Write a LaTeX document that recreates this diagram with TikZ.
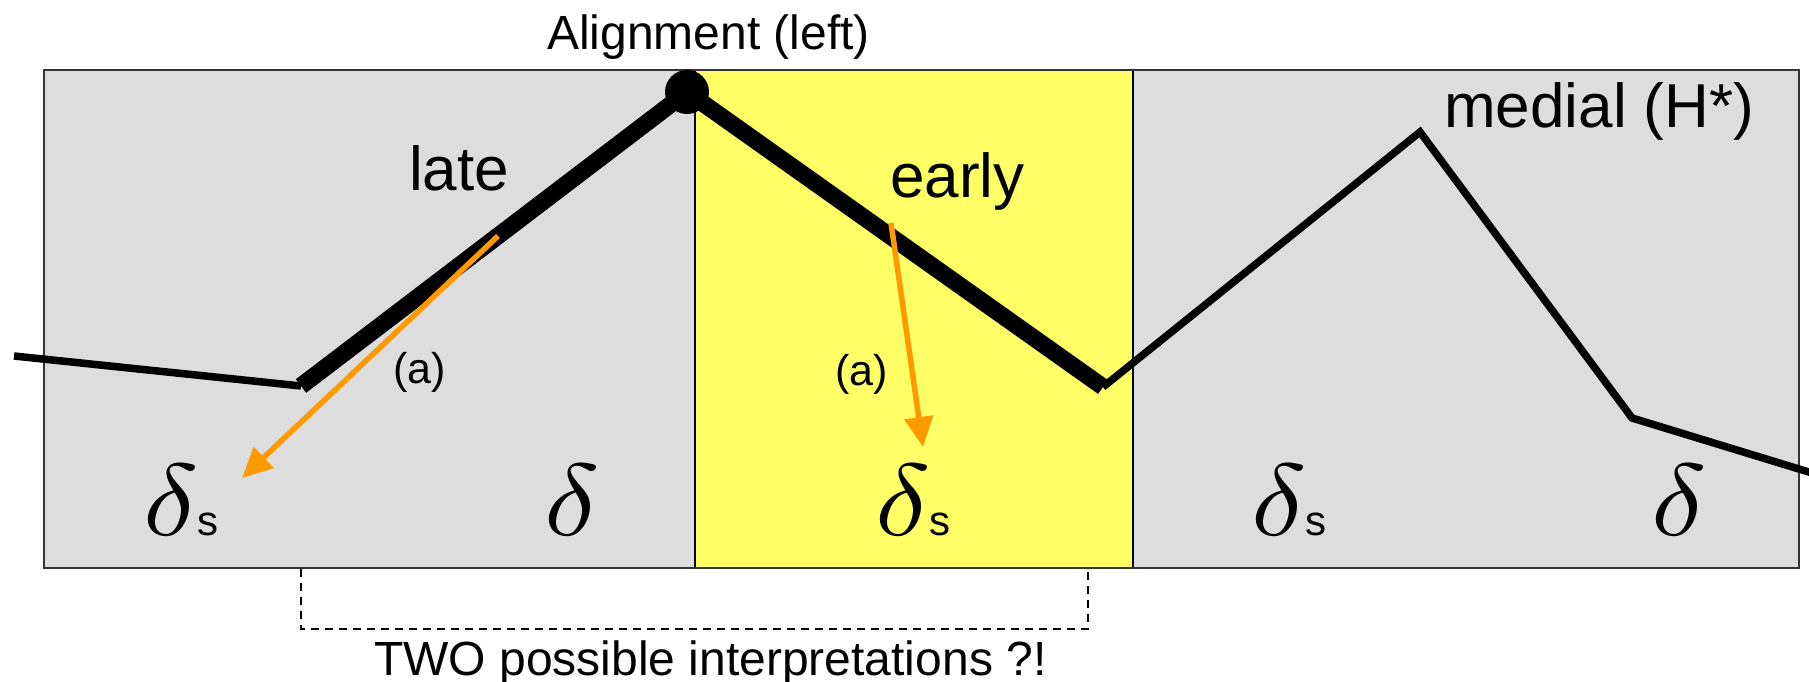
\documentclass[tikz,border=0pt]{standalone}
\usepackage{graphicx}
\usepackage{fontspec}
\setmainfont{Liberation Sans}
\usetikzlibrary{arrows.meta}
\definecolor{boxgray}{HTML}{DDDDDD}
\definecolor{hiyellow}{HTML}{FFFF66}
\definecolor{arrorange}{HTML}{FF9900}
\definecolor{edgegray}{HTML}{333333}
\tikzset{
  lbl/.style={inner sep=0pt, anchor=base west},
  bigtxt/.style={lbl, font=\fontsize{62}{70}\selectfont},
  midtxt/.style={lbl, font=\fontsize{48}{56}\selectfont},
  smalltxt/.style={lbl, font=\fontsize{43}{50}\selectfont},
  deltatxt/.style={lbl},
  thinline/.style={line width=7.5pt, line join=miter},
  thickline/.style={line width=17pt, line join=round},
  orarrow/.style={draw=arrorange, line width=5.5pt, -{Triangle[length=30pt,width=28pt]}},
  bracket/.style={dashed, dash pattern=on 8pt off 6pt, line width=1.5pt},
}
\newcommand{\dsym}{\scalebox{11.5}[10.2]{$\delta$}}
\newcommand{\dsub}{\dsym\kern-1pt{\fontsize{42}{42}\selectfont s}}
\begin{document}
\begin{tikzpicture}[x=1pt,y=-1pt]
\useasboundingbox (0,0) rectangle (1809,682);
% panels
\fill[boxgray] (44,70) rectangle (1799,568);
\fill[hiyellow] (695,70) rectangle (1133,568);
\draw[line width=2pt] (695,70) -- (695,568);
\draw[line width=2pt] (1133,70) -- (1133,568);
\draw[edgegray, line width=2pt] (44,70) rectangle (1799,568);
% texts
\node[midtxt] (align) at (547,50) {Alignment (left)};
\node[bigtxt] (late) at (409,190) {late};
\node[bigtxt] (early) at (890,197) {early};
\node[bigtxt] (medial) at (1444,128) {medial (H*)};
\node[smalltxt] (a1) at (393,383) {(a)};
\node[smalltxt] (a2) at (835,385) {(a)};
\node[deltatxt] (d1) at (143,535) {\dsub};
\node[deltatxt] (d2) at (544,535) {\dsym};
\node[deltatxt] (d3) at (875,535) {\dsub};
\node[deltatxt] (d4) at (1251,535) {\dsub};
\node[deltatxt] (d5) at (1651,535) {\dsym};
\node[midtxt] (two) at (374,675) {TWO possible interpretations ?!};
% contour
\coordinate (P0) at (14,356);
\coordinate (P1) at (301,386);
\coordinate (P2) at (687,92);
\coordinate (P3) at (1103,387);
\coordinate (P4) at (1420,132);
\coordinate (P5) at (1632,418);
\coordinate (P6) at (1812,473);
\draw[thinline] (P0) -- (P1);
\draw[thinline] (P3) -- (P4) -- (P5) -- (P6);
\draw[thickline] (P1) -- (P2) -- (P3);
\fill (P2) circle[radius=22pt];
% orange arrows
\coordinate (o1s) at (498,236);
\coordinate (o1e) at (242,478);
\coordinate (o2s) at (891,223);
\coordinate (o2e) at (923,447);
\draw[orarrow] (o1s) -- (o1e);
\draw[orarrow] (o2s) -- (o2e);
% bracket
\coordinate (b1) at (301,569);
\coordinate (b2) at (301,629);
\coordinate (b3) at (1088,629);
\coordinate (b4) at (1088,569);
\draw[bracket] (b1) -- (b2) -- (b3) -- (b4);
\end{tikzpicture}
\end{document}
